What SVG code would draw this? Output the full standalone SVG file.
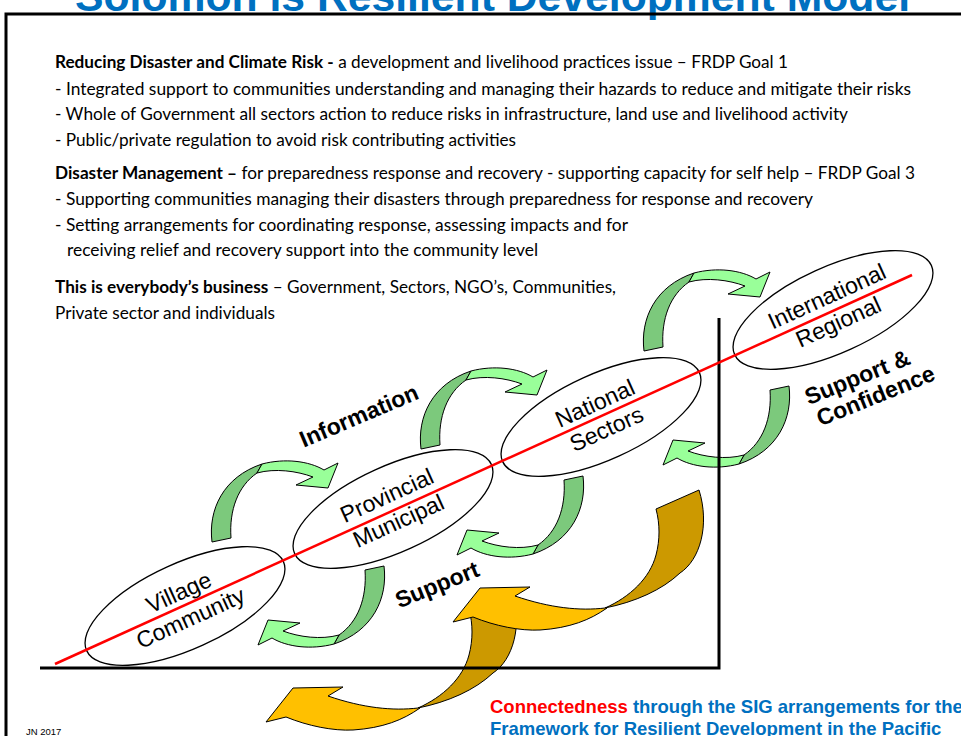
<svg xmlns="http://www.w3.org/2000/svg" xmlns:xlink="http://www.w3.org/1999/xlink" width="961" height="736" viewBox="0 0 961 736">
<style>
.t{font-family:Lato,"Open Sans","Liberation Sans",sans-serif;font-size:16.5px;fill:#000}
.b{font-weight:bold}
.e{fill:none;stroke:#000;stroke-width:1.3}
.et{font-family:"Liberation Sans",Arial,sans-serif;font-size:23px;text-anchor:middle;fill:#000}
.lbl{font-family:"Liberation Sans",Arial,sans-serif;font-weight:bold;font-size:23px;text-anchor:middle;fill:#000}
.gd{fill:#7CC97C;stroke:#000;stroke-width:1}
.gl{fill:#99FF99;stroke:#000;stroke-width:1}
.yd{fill:#CC9900;stroke:#000;stroke-width:1}
.yl{fill:#FFC000;stroke:#000;stroke-width:1}
.ax{stroke:#000;stroke-width:3;fill:none}
</style>
<defs>
<g id="garrow">
<path class="gd" d="M212,542 C208,510 223,477 262,464 L257,473 C238,486 229,510 231,538 Z"/>
<path class="gl" d="M262,464 C285,458 309,461 324,470 L338,463 L328,488 L296,485 L313,477 C297,471 275,468 257,473 Z"/>
</g>
<g id="yarrow">
<path class="yd" d="M656,509 L699,490 C710,525 700,560 680,573 C662,590 635,602 605,608 C630,597 650,578 656,555 C660,540 660,524 656,509 Z"/>
<path class="yl" d="M605,608 C580,611 550,608 515,596 L530,587 L480,588 L453,622 L473,617 C495,626 520,631 540,630 C570,628 590,620 607,608 Z"/>
</g>
</defs>
<rect width="961" height="736" fill="#fff"/>
<text x="75" y="11" textLength="835" lengthAdjust="spacingAndGlyphs" font-family="Liberation Sans, Arial, sans-serif" font-weight="bold" font-size="42" fill="#0070C0">Solomon is Resilient Development Model</text>
<path class="ax" d="M6,736 L6,14 L961,14"/>
<g id="textblock">
<text class="t" x="55" y="68" textLength="733" lengthAdjust="spacingAndGlyphs"><tspan class="b">Reducing Disaster and Climate Risk -</tspan> a development and livelihood practices issue – FRDP Goal 1</text>
<text class="t" x="55" y="95" textLength="856" lengthAdjust="spacingAndGlyphs">- Integrated support to communities understanding and managing their hazards to reduce and mitigate their risks</text>
<text class="t" x="55" y="120" textLength="793" lengthAdjust="spacingAndGlyphs">- Whole of Government all sectors action to reduce risks in infrastructure, land use and livelihood activity</text>
<text class="t" x="55" y="146" textLength="461" lengthAdjust="spacingAndGlyphs">- Public/private regulation to avoid risk contributing activities</text>
<text class="t" x="55" y="179" textLength="860" lengthAdjust="spacingAndGlyphs"><tspan class="b">Disaster Management –</tspan> for preparedness response and recovery - supporting capacity for self help – FRDP Goal 3</text>
<text class="t" x="55" y="205" textLength="758" lengthAdjust="spacingAndGlyphs">- Supporting communities managing their disasters through preparedness for response and recovery</text>
<text class="t" x="55" y="231" textLength="573" lengthAdjust="spacingAndGlyphs">- Setting arrangements for coordinating response, assessing impacts and for</text>
<text class="t" x="67" y="256" textLength="471" lengthAdjust="spacingAndGlyphs">receiving relief and recovery support into the community level</text>
<text class="t" x="55" y="293" textLength="561" lengthAdjust="spacingAndGlyphs"><tspan class="b">This is everybody’s business</tspan> – Government, Sectors, NGO’s, Communities,</text>
<text class="t" x="55" y="319" textLength="220" lengthAdjust="spacingAndGlyphs">Private sector and individuals</text>
</g>
<g id="village" transform="translate(185,606) rotate(-24.4)">
<ellipse class="e" rx="108" ry="43"/>
<text class="et" y="-7">Village</text>
<text class="et" y="21">Community</text>
</g>
<g id="provincial" transform="translate(393,509) rotate(-24.4)">
<ellipse class="e" rx="108" ry="43"/>
<text class="et" y="-7">Provincial</text>
<text class="et" y="21">Municipal</text>
</g>
<g id="national" transform="translate(601,417) rotate(-24.4)">
<ellipse class="e" rx="108" ry="43"/>
<text class="et" y="-7">National</text>
<text class="et" y="21">Sectors</text>
</g>
<g id="international" transform="translate(833,310) rotate(-24.4)">
<ellipse class="e" rx="108" ry="43"/>
<text class="et" y="-7">International</text>
<text class="et" y="21">Regional</text>
</g>
<g id="connectors">
<use xlink:href="#yarrow" transform="translate(-187,100)"/>
<use xlink:href="#yarrow"/>
<use xlink:href="#garrow"/>
<use xlink:href="#garrow" transform="translate(209,-93)"/>
<use xlink:href="#garrow" transform="translate(432,-191)"/>
<use xlink:href="#garrow" transform="rotate(180,298,554)"/>
<use xlink:href="#garrow" transform="translate(199,-90) rotate(180,298,554)"/>
<use xlink:href="#garrow" transform="translate(405,-180) rotate(180,298,554)"/>
<path class="ax" d="M40,668 L719,668 L719,318"/>
<line x1="55" y1="664" x2="912" y2="275" stroke="#FF0000" stroke-width="2.5"/>
</g>
<g id="labels">
<text class="lbl" transform="translate(362,423) rotate(-23)">Information</text>
<text class="lbl" transform="translate(440,592) rotate(-22)">Support</text>
<g transform="translate(867,385) rotate(-22)">
<text class="lbl" x="-6" y="-3">Support &amp;</text>
<text class="lbl" x="4" y="21">Confidence</text>
</g>
</g>
<text x="490" y="713" font-family="Liberation Sans, Arial, sans-serif" font-weight="bold" font-size="18.5" fill="#0070C0"><tspan fill="#FF0000">Connectedness</tspan> through the SIG arrangements for the</text>
<text x="490" y="735" font-family="Liberation Sans, Arial, sans-serif" font-weight="bold" font-size="18.5" fill="#0070C0">Framework for Resilient Development in the Pacific</text>
<text x="26" y="735" font-family="Liberation Sans, Arial, sans-serif" font-size="9.5" fill="#000">JN 2017</text>
</svg>
